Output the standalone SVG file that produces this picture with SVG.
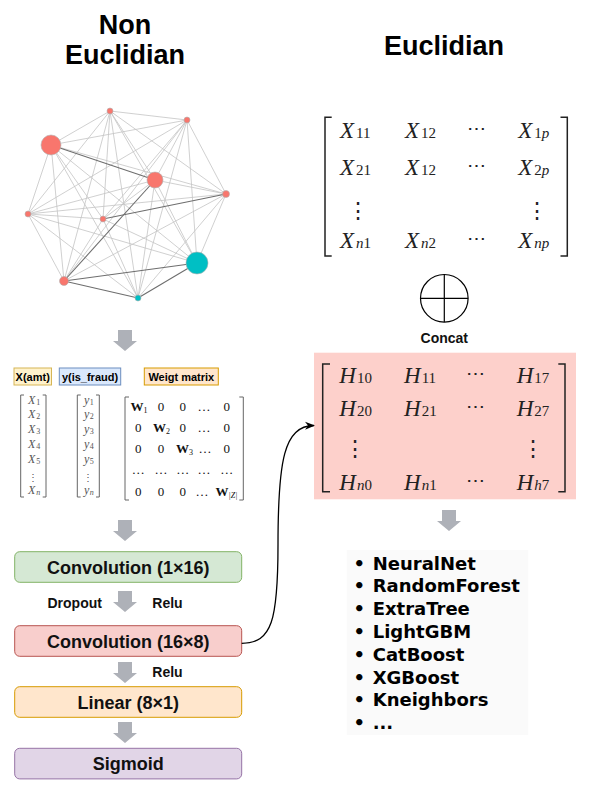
<svg xmlns="http://www.w3.org/2000/svg" width="592" height="790" viewBox="0 0 592 790">
<style>
.title{font-family:"Liberation Sans",Arial,sans-serif;font-weight:bold;font-size:27px;fill:#000;text-anchor:middle}
.box{stroke-width:1}
.bt{font-family:"Liberation Sans",Arial,sans-serif;font-weight:bold;font-size:18px;fill:#111;text-anchor:middle}
.lbl{font-family:"Liberation Sans",Arial,sans-serif;font-weight:bold;font-size:14px;fill:#111}
.tag{font-family:"Liberation Sans",Arial,sans-serif;font-weight:bold;font-size:11px;fill:#000;text-anchor:middle}
.barrow{fill:#aeb1b8}
.e{stroke:#c4c4c4;stroke-width:0.8}
.ed{stroke:#6e6e6e;stroke-width:1.1}
.nr{fill:#f8766d;stroke:#b0b0b0;stroke-width:0.6}
.nt{fill:#00bfc4;stroke:#b0b0b0;stroke-width:0.6}
.mx{font-family:"Liberation Serif","Times New Roman",serif;font-style:italic;font-size:23px;fill:#222}
.sub{font-style:normal;font-size:15px}
.isub{font-style:italic;font-size:15px}
.dots{font-family:"DejaVu Serif",serif;font-size:19px;fill:#222;text-anchor:middle}
.vdots{font-family:"DejaVu Serif",serif;font-size:22px;fill:#222;text-anchor:middle}
.br{fill:none;stroke:#222;stroke-width:1.5}
.sbr{fill:none;stroke:#666;stroke-width:1}
.sv{font-family:"Liberation Serif","Times New Roman",serif;font-style:italic;font-size:12px;fill:#555}
.ss{font-style:normal;font-size:8px}
.sis{font-style:italic;font-size:8px}
.wm{font-family:"Liberation Serif","Times New Roman",serif;font-size:13px;fill:#111;text-anchor:middle}
.wb{font-weight:bold}
.li{font-family:"DejaVu Sans",Verdana,sans-serif;font-weight:bold;font-size:18px;fill:#000}
</style>
<defs>
<marker id="arr" viewBox="0 0 10 10" refX="9" refY="5" markerWidth="10" markerHeight="10" markerUnits="userSpaceOnUse" orient="auto">
<path d="M0,1 L10,5 L0,9 L3,5 Z" fill="#000"/>
</marker>
<path id="blk" d="M-7,0 H7 V11 H12 L0,21 L-12,11 H-7 Z"/>
</defs>

<!-- Titles -->
<g id="title-non-euclidian">
<text class="title" x="125" y="34">Non</text>
<text class="title" x="125" y="64">Euclidian</text>
</g>
<g id="title-euclidian">
<text class="title" x="444" y="55">Euclidian</text>
</g>

<!-- Graph -->
<g id="graph">
<g id="graph-edges">
<line class="e" x1="110" y1="111" x2="187" y2="120"/>
<line class="e" x1="110" y1="111" x2="51" y2="145"/>
<line class="e" x1="110" y1="111" x2="155" y2="180"/>
<line class="e" x1="110" y1="111" x2="226" y2="194"/>
<line class="e" x1="110" y1="111" x2="28" y2="214"/>
<line class="e" x1="110" y1="111" x2="103" y2="219"/>
<line class="e" x1="110" y1="111" x2="197" y2="263"/>
<line class="e" x1="110" y1="111" x2="64" y2="281"/>
<line class="e" x1="110" y1="111" x2="138" y2="298"/>
<line class="e" x1="187" y1="120" x2="51" y2="145"/>
<line class="e" x1="187" y1="120" x2="155" y2="180"/>
<line class="e" x1="187" y1="120" x2="226" y2="194"/>
<line class="e" x1="187" y1="120" x2="28" y2="214"/>
<line class="e" x1="187" y1="120" x2="103" y2="219"/>
<line class="e" x1="187" y1="120" x2="197" y2="263"/>
<line class="e" x1="187" y1="120" x2="64" y2="281"/>
<line class="e" x1="187" y1="120" x2="138" y2="298"/>
<line class="e" x1="51" y1="145" x2="226" y2="194"/>
<line class="e" x1="51" y1="145" x2="28" y2="214"/>
<line class="e" x1="51" y1="145" x2="103" y2="219"/>
<line class="e" x1="51" y1="145" x2="197" y2="263"/>
<line class="e" x1="51" y1="145" x2="64" y2="281"/>
<line class="e" x1="51" y1="145" x2="138" y2="298"/>
<line class="e" x1="155" y1="180" x2="226" y2="194"/>
<line class="e" x1="155" y1="180" x2="28" y2="214"/>
<line class="e" x1="155" y1="180" x2="103" y2="219"/>
<line class="e" x1="155" y1="180" x2="197" y2="263"/>
<line class="e" x1="155" y1="180" x2="138" y2="298"/>
<line class="e" x1="226" y1="194" x2="28" y2="214"/>
<line class="e" x1="226" y1="194" x2="197" y2="263"/>
<line class="e" x1="226" y1="194" x2="64" y2="281"/>
<line class="e" x1="226" y1="194" x2="138" y2="298"/>
<line class="e" x1="28" y1="214" x2="103" y2="219"/>
<line class="e" x1="28" y1="214" x2="197" y2="263"/>
<line class="e" x1="28" y1="214" x2="64" y2="281"/>
<line class="e" x1="28" y1="214" x2="138" y2="298"/>
<line class="e" x1="103" y1="219" x2="197" y2="263"/>
<line class="e" x1="103" y1="219" x2="64" y2="281"/>
<line class="e" x1="103" y1="219" x2="138" y2="298"/>
<line class="ed" x1="51" y1="145" x2="155" y2="180"/>
<line class="ed" x1="155" y1="180" x2="64" y2="281"/>
<line class="ed" x1="226" y1="194" x2="103" y2="219"/>
<line class="ed" x1="197" y1="263" x2="64" y2="281"/>
<line class="ed" x1="197" y1="263" x2="138" y2="298"/>
<line class="ed" x1="64" y1="281" x2="138" y2="298"/>
</g>
<g id="graph-nodes">
<circle class="nr" cx="110" cy="111" r="3"/>
<circle class="nr" cx="187" cy="120" r="3"/>
<circle class="nr" cx="51" cy="145" r="10"/>
<circle class="nr" cx="155" cy="180" r="8"/>
<circle class="nr" cx="226" cy="194" r="3.5"/>
<circle class="nr" cx="28" cy="214" r="3"/>
<circle class="nr" cx="103" cy="219" r="3"/>
<circle class="nt" cx="197" cy="263" r="11"/>
<circle class="nr" cx="64" cy="281" r="4.5"/>
<circle class="nt" cx="138" cy="298" r="3"/>
</g>
</g>

<!-- Block arrows -->
<g id="block-arrows" class="barrow">
<use href="#blk" x="125" y="330"/>
<use href="#blk" x="125" y="520"/>
<use href="#blk" x="125" y="591"/>
<use href="#blk" x="125" y="662"/>
<use href="#blk" x="125" y="722"/>
<use href="#blk" x="449" y="510"/>
</g>

<!-- Input labels -->
<g id="tag-x">
<rect x="14" y="368" width="37.5" height="17" fill="#fff2cc" stroke="#d6b656"/>
<text class="tag" x="32.7" y="380.5">X(amt)</text>
</g>
<g id="tag-y">
<rect x="59.3" y="368" width="61.4" height="17" fill="#dae8fc" stroke="#6c8ebf"/>
<text class="tag" x="90" y="380.5">y(is_fraud)</text>
</g>
<g id="tag-w">
<rect x="144.3" y="368" width="74" height="17" fill="#ffe6cc" stroke="#d79b00"/>
<text class="tag" x="181.3" y="380.5">Weigt matrix</text>
</g>

<!-- X vector -->
<g id="x-vector">
<path class="sbr" d="M24,395 H20.7 V497 H24 M42.7,395 H46 V497 H42.7"/>
<text class="sv" x="28" y="403.5">X<tspan class="ss" dx="1" dy="1">1</tspan></text>
<text class="sv" x="28" y="418">X<tspan class="ss" dx="1" dy="1">2</tspan></text>
<text class="sv" x="28" y="433">X<tspan class="ss" dx="1" dy="1">3</tspan></text>
<text class="sv" x="28" y="447.5">X<tspan class="ss" dx="1" dy="1">4</tspan></text>
<text class="sv" x="28" y="462.5">X<tspan class="ss" dx="1" dy="1">5</tspan></text>
<text class="sv" x="33.3" y="481" style="font-style:normal;font-family:'DejaVu Serif',serif;font-size:10px;text-anchor:middle">⋮</text>
<text class="sv" x="28" y="493.5">X<tspan class="sis" dx="1" dy="1">n</tspan></text>
</g>

<!-- y vector -->
<g id="y-vector">
<path class="sbr" d="M80.7,395 H77.3 V497 H80.7 M96,395 H99.3 V497 H96"/>
<text class="sv" x="84" y="403.5">y<tspan class="ss" dx="0.5" dy="1">1</tspan></text>
<text class="sv" x="84" y="418">y<tspan class="ss" dx="0.5" dy="1">2</tspan></text>
<text class="sv" x="84" y="433">y<tspan class="ss" dx="0.5" dy="1">3</tspan></text>
<text class="sv" x="84" y="447.5">y<tspan class="ss" dx="0.5" dy="1">4</tspan></text>
<text class="sv" x="84" y="462.5">y<tspan class="ss" dx="0.5" dy="1">5</tspan></text>
<text class="sv" x="88.3" y="481" style="font-style:normal;font-family:'DejaVu Serif',serif;font-size:10px;text-anchor:middle">⋮</text>
<text class="sv" x="84" y="493.5">y<tspan class="sis" dx="0.5" dy="1">n</tspan></text>
</g>

<!-- W matrix -->
<g id="w-matrix">
<path class="sbr" d="M129,397 H125 V500 H129 M239.3,397 H243.3 V500 H239.3"/>
<text class="wm" x="139" y="411"><tspan class="wb">W</tspan><tspan font-size="8" dy="2">1</tspan></text>
<text class="wm" x="161" y="411">0</text>
<text class="wm" x="182.7" y="411">0</text>
<text class="wm" x="204" y="411">…</text>
<text class="wm" x="226.7" y="411">0</text>
<text class="wm" x="138.3" y="432">0</text>
<text class="wm" x="161.5" y="432"><tspan class="wb">W</tspan><tspan font-size="8" dy="2">2</tspan></text>
<text class="wm" x="182.7" y="432">0</text>
<text class="wm" x="204" y="432">…</text>
<text class="wm" x="226.7" y="432">0</text>
<text class="wm" x="138.3" y="453">0</text>
<text class="wm" x="161" y="453">0</text>
<text class="wm" x="184.5" y="453"><tspan class="wb">W</tspan><tspan font-size="8" dy="2">3</tspan></text>
<text class="wm" x="205" y="453">…</text>
<text class="wm" x="226.7" y="453">0</text>
<text class="wm" x="138.3" y="474">…</text>
<text class="wm" x="161" y="474">…</text>
<text class="wm" x="182.7" y="474">…</text>
<text class="wm" x="204" y="474">…</text>
<text class="wm" x="226.7" y="474">…</text>
<text class="wm" x="138.3" y="496">0</text>
<text class="wm" x="161" y="496">0</text>
<text class="wm" x="182.7" y="496">0</text>
<text class="wm" x="202" y="496">…</text>
<text class="wm" x="226.5" y="496"><tspan class="wb">W</tspan><tspan font-size="8" dy="2" font-style="italic">|Z|</tspan></text>
</g>

<!-- Layer boxes -->
<g id="conv1">
<rect class="box" x="14.7" y="551.7" width="227" height="30.6" rx="5" fill="#d5e8d4" stroke="#82b366"/>
<text class="bt" x="128.2" y="573.5">Convolution (1×16)</text>
</g>
<g id="conv2">
<rect class="box" x="14.7" y="625.7" width="227" height="30.6" rx="5" fill="#f8cecc" stroke="#b85450"/>
<text class="bt" x="128.2" y="647.5">Convolution (16×8)</text>
</g>
<g id="linear">
<rect class="box" x="14.7" y="686.7" width="227" height="30.6" rx="5" fill="#ffe6cc" stroke="#d79b00"/>
<text class="bt" x="128.2" y="708.5">Linear (8×1)</text>
</g>
<g id="sigmoid">
<rect class="box" x="14.7" y="748.3" width="227" height="30.6" rx="5" fill="#e1d5e7" stroke="#9673a6"/>
<text class="bt" x="128.2" y="770">Sigmoid</text>
</g>
<g id="arrow-labels">
<text class="lbl" x="47.5" y="608">Dropout</text>
<text class="lbl" x="152.3" y="608">Relu</text>
<text class="lbl" x="152.3" y="677">Relu</text>
</g>

<!-- Euclidian X matrix -->
<g id="x-matrix">
<path class="br" d="M331.7,117.3 H325 V256 H331.7 M560.5,117.3 H567.3 V256 H560.5"/>
<text class="mx" x="340" y="138.3">X<tspan class="sub" dx="2">11</tspan></text>
<text class="mx" x="405" y="138.3">X<tspan class="sub" dx="2">12</tspan></text>
<text class="dots" x="476.7" y="135">⋯</text>
<text class="mx" x="518.3" y="138.3">X<tspan class="sub" dx="2">1</tspan><tspan class="isub">p</tspan></text>
<text class="mx" x="340" y="175">X<tspan class="sub" dx="2">21</tspan></text>
<text class="mx" x="405" y="175">X<tspan class="sub" dx="2">12</tspan></text>
<text class="dots" x="476.7" y="172">⋯</text>
<text class="mx" x="518.3" y="175">X<tspan class="sub" dx="2">2</tspan><tspan class="isub">p</tspan></text>
<text class="vdots" x="358.3" y="218">⋮</text>
<text class="vdots" x="536.7" y="218">⋮</text>
<text class="mx" x="340" y="248.3">X<tspan class="isub" dx="2">n</tspan><tspan class="sub">1</tspan></text>
<text class="mx" x="405" y="248.3">X<tspan class="isub" dx="2">n</tspan><tspan class="sub">2</tspan></text>
<text class="dots" x="476.7" y="245">⋯</text>
<text class="mx" x="518.3" y="248.3">X<tspan class="isub" dx="2">np</tspan></text>
</g>

<!-- Concat -->
<g id="concat">
<circle cx="444.3" cy="298.3" r="23.8" fill="#fff" stroke="#000" stroke-width="1.2"/>
<path d="M420.5,298.3 H468.1 M444.3,274.5 V322.1" stroke="#000" stroke-width="1.2"/>
<text class="lbl" x="444.3" y="342.5" text-anchor="middle">Concat</text>
</g>

<!-- H matrix -->
<g id="h-matrix">
<rect x="314" y="352.7" width="262" height="146.6" fill="#fdd0cb"/>
<path class="br" d="M330,364 H322.7 V491.7 H330 M558.3,364 H565 V491.7 H558.3"/>
<text class="mx" x="339.3" y="383.3">H<tspan class="sub" dx="1">10</tspan></text>
<text class="mx" x="404" y="383.3">H<tspan class="sub" dx="1">11</tspan></text>
<text class="dots" x="475" y="380">⋯</text>
<text class="mx" x="516.7" y="383.3">H<tspan class="sub" dx="1">17</tspan></text>
<text class="mx" x="339.3" y="416">H<tspan class="sub" dx="1">20</tspan></text>
<text class="mx" x="404" y="416">H<tspan class="sub" dx="1">21</tspan></text>
<text class="dots" x="475" y="413">⋯</text>
<text class="mx" x="516.7" y="416">H<tspan class="sub" dx="1">27</tspan></text>
<text class="vdots" x="355" y="456">⋮</text>
<text class="vdots" x="533.3" y="456">⋮</text>
<text class="mx" x="339.3" y="490">H<tspan class="isub" dx="1">n</tspan><tspan class="sub">0</tspan></text>
<text class="mx" x="404" y="490">H<tspan class="isub" dx="1">n</tspan><tspan class="sub">1</tspan></text>
<text class="dots" x="475" y="487">⋯</text>
<text class="mx" x="516.7" y="490">H<tspan class="isub" dx="1">h</tspan><tspan class="sub">7</tspan></text>
</g>

<!-- Model list -->
<g id="model-list">
<rect x="346.7" y="550" width="181.6" height="185" fill="#fafafa"/>
<text class="li" y="569.5"><tspan x="353.5">•</tspan><tspan x="372.7">NeuralNet</tspan></text>
<text class="li" y="592.3"><tspan x="353.5">•</tspan><tspan x="372.7">RandomForest</tspan></text>
<text class="li" y="615.1"><tspan x="353.5">•</tspan><tspan x="372.7">ExtraTree</tspan></text>
<text class="li" y="637.9"><tspan x="353.5">•</tspan><tspan x="372.7">LightGBM</tspan></text>
<text class="li" y="660.7"><tspan x="353.5">•</tspan><tspan x="372.7">CatBoost</tspan></text>
<text class="li" y="683.5"><tspan x="353.5">•</tspan><tspan x="372.7">XGBoost</tspan></text>
<text class="li" y="706.3"><tspan x="353.5">•</tspan><tspan x="372.7">Kneighbors</tspan></text>
<text class="li" y="729.1"><tspan x="353.5">•</tspan><tspan x="372.7">...</tspan></text>
</g>

<!-- Connectors -->
<g id="connectors">
<path d="M241.7,643.3 C272,643.3 278,620 278,545 C278,460 284,426 314,425.5" fill="none" stroke="#000" stroke-width="1.3" marker-end="url(#arr)"/>
</g>
</svg>
